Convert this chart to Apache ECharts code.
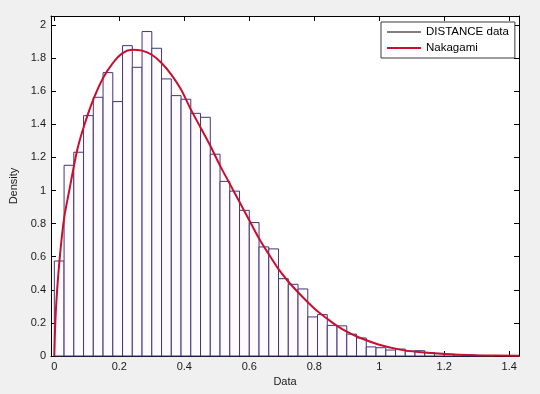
<!DOCTYPE html>
<html><head><meta charset="utf-8">
<script src="https://cdn.jsdelivr.net/npm/echarts@6/dist/echarts.min.js"></script>
<style>html,body{margin:0;padding:0;background:#f0f0f0}#c{width:540px;height:394px}</style>
</head><body><div id="c"></div>
<script>
// Histogram bins (left edge of first bin and bin width, in data units)
const binStart = 0.0;
const binWidth = 0.03;
// Bar heights (density)
const densities = [
  0.574, 1.152, 1.231, 1.452, 1.563, 1.712, 1.537, 1.875, 1.744, 1.960,
  1.859, 1.674, 1.573, 1.551, 1.466, 1.442, 1.219, 1.055, 0.996, 0.880,
  0.806, 0.659, 0.647, 0.467, 0.433, 0.405, 0.236, 0.250, 0.185, 0.182,
  0.132, 0.109, 0.055, 0.050, 0.036, 0.042, 0.030, 0.032, 0.020, 0.016,
  0.010, 0.008, 0.006, 0.004, 0.003
];
// Nakagami fit curve
const curveX = [0, 0.003, 0.008, 0.018, 0.03, 0.046, 0.07, 0.09, 0.12, 0.15,
  0.18, 0.21, 0.24, 0.27, 0.30, 0.33, 0.36, 0.39, 0.42, 0.45,
  0.48, 0.51, 0.54, 0.57, 0.60, 0.63, 0.66, 0.69, 0.72, 0.75,
  0.78, 0.81, 0.84, 0.87, 0.90, 0.94, 1.00, 1.06, 1.12, 1.20,
  1.30, 1.43];
const curveY = [0, 0.20, 0.38, 0.62, 0.83, 1.00, 1.24, 1.38, 1.55, 1.68,
  1.77, 1.83, 1.85, 1.845, 1.82, 1.77, 1.70, 1.61, 1.49, 1.38,
  1.27, 1.15, 1.04, 0.93, 0.82, 0.71, 0.615, 0.525, 0.45, 0.385,
  0.325, 0.27, 0.225, 0.182, 0.147, 0.11, 0.068, 0.04, 0.024, 0.012,
  0.005, 0.001];
const seriesNames = ['DISTANCE data', 'Nakagami'];
const xLabel = 'Data';
const yLabel = 'Density';

const histData = densities.map((h, i) => [binStart + i * binWidth, binStart + (i + 1) * binWidth, h]);
const lineData = curveX.map((x, i) => [x, curveY[i]]);

const FONT = '"Liberation Sans", Arial, sans-serif';
const X_MIN = -0.0102, X_MAX = 1.43, Y_MIN = 0, Y_MAX = 2.054;
function fmt(v){ const r = Math.round(v / 0.2) * 0.2; return Math.abs(r - v) < 1e-6 ? String(+r.toFixed(1)) : ''; }

const tickCommon = { show: true, inside: true, length: 5, lineStyle: { color: '#000', width: 1 } };
const lineCommon = { show: true, onZero: false, lineStyle: { color: '#000', width: 1 } };
const labelStyle = { color: '#1a1a1a', fontFamily: FONT, fontSize: 11 };

const xCommon = { type: 'value', min: X_MIN, max: X_MAX, splitNumber: 7, minInterval: 0.2, maxInterval: 0.2,
  axisLine: lineCommon, axisTick: tickCommon, splitLine: { show: false } };
const yCommon = { type: 'value', min: Y_MIN, max: Y_MAX, interval: 0.2,
  axisLine: lineCommon, axisTick: tickCommon, splitLine: { show: false } };

const chart = echarts.init(document.getElementById('c'), null, { renderer: 'canvas' });
chart.setOption({
  backgroundColor: '#f0f0f0',
  animation: false,
  grid: { left: 51, right: 21, top: 16, bottom: 38, show: true, backgroundColor: '#ffffff', borderWidth: 0 },
  legend: {
    left: 381, top: 22, orient: 'vertical',
    backgroundColor: '#ffffff', borderColor: '#3a3a3a', borderWidth: 1,
    padding: [3, 6, 3, 6], itemGap: 2, itemWidth: 34, itemHeight: 2,
    textStyle: { fontFamily: FONT, fontSize: 11.5, color: '#000', lineHeight: 14 },
    data: [
      { name: seriesNames[0], icon: 'rect', itemStyle: { color: '#7f7f7f', borderWidth: 0 } },
      { name: seriesNames[1], icon: 'rect', itemStyle: { color: '#c8102e', borderWidth: 0 } }
    ]
  },
  xAxis: [
    Object.assign({}, xCommon, { position: 'bottom',
      axisLabel: Object.assign({ margin: 5, formatter: fmt, showMinLabel: true, showMaxLabel: true }, labelStyle),
      name: xLabel, nameLocation: 'middle', nameGap: 19,
      nameTextStyle: { fontFamily: FONT, fontSize: 11, color: '#1a1a1a' } }),
    Object.assign({}, xCommon, { position: 'top', axisLabel: { show: false } })
  ],
  yAxis: [
    Object.assign({}, yCommon, { position: 'left',
      axisLabel: Object.assign({ margin: 5, formatter: fmt }, labelStyle),
      name: yLabel, nameLocation: 'middle', nameGap: 24, nameRotate: 90,
      nameTextStyle: { fontFamily: FONT, fontSize: 11, color: '#1a1a1a' } }),
    Object.assign({}, yCommon, { position: 'right', axisLabel: { show: false } })
  ],
  series: [
    { name: seriesNames[0], type: 'custom', xAxisIndex: 0, yAxisIndex: 0,
      encode: { x: [0, 1], y: 2 },
      data: histData,
      renderItem: function (params, api) {
        const p0 = api.coord([api.value(0), 0]);
        const p1 = api.coord([api.value(1), api.value(2)]);
        return { type: 'rect',
          shape: { x: p0[0], y: p1[1], width: p1[0] - p0[0], height: p0[1] - p1[1] },
          style: { fill: '#fdfbfe', stroke: '#41367a', lineWidth: 1 } };
      }
    },
    { name: seriesNames[1], type: 'line', xAxisIndex: 0, yAxisIndex: 0,
      data: lineData, showSymbol: false, smooth: 0.3, clip: false,
      lineStyle: { color: '#c8102e', width: 2 }, itemStyle: { color: '#c8102e' }, z: 5 }
  ]
});
</script></body></html>
